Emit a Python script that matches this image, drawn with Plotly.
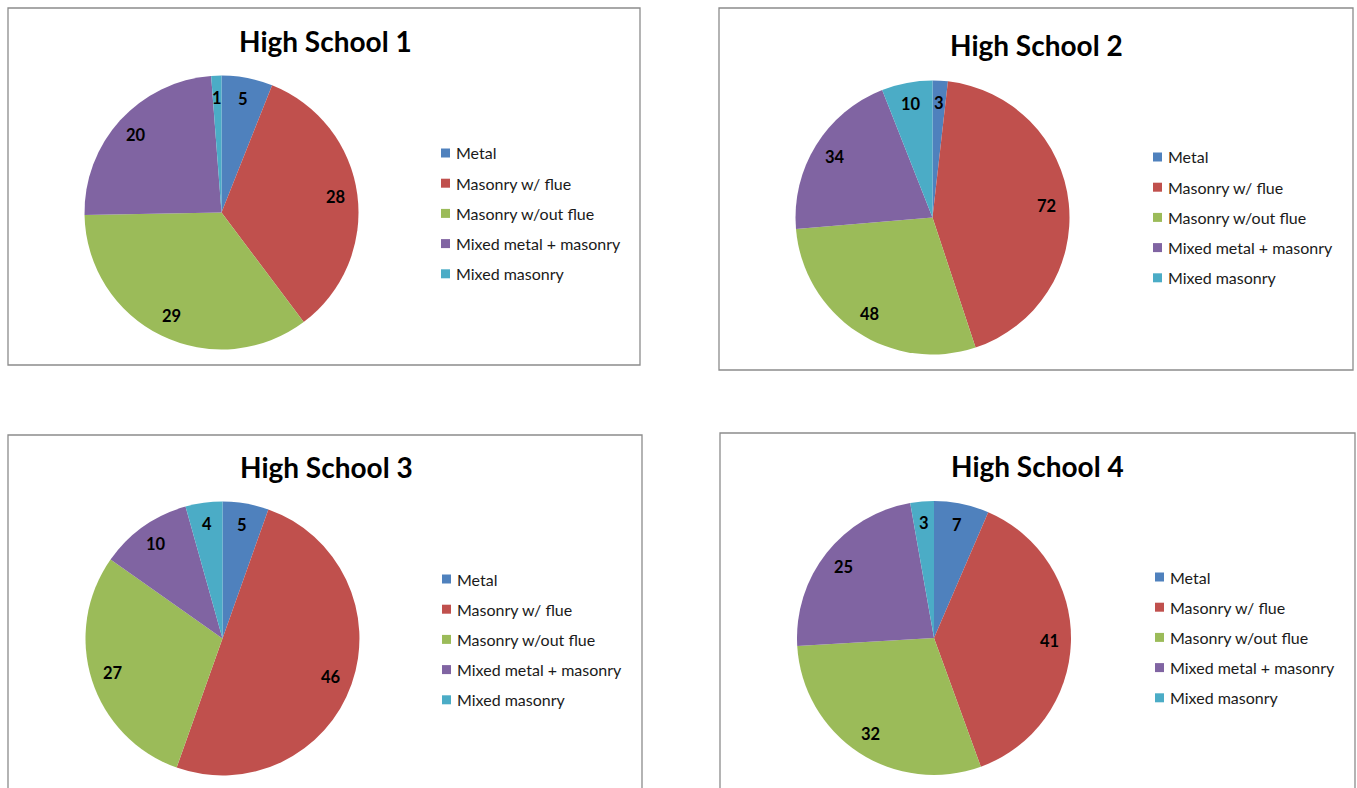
import math
import plotly.graph_objects as go

W, H = 1357, 788

categories = ["Metal", "Masonry w/ flue", "Masonry w/out flue",
              "Mixed metal + masonry", "Mixed masonry"]
colors = ["#4F81BD", "#C0504D", "#9BBB59", "#8064A2", "#4BACC6"]

titles = ["High School 1", "High School 2", "High School 3", "High School 4"]
school1 = [5, 28, 29, 20, 1]
school2 = [3, 72, 48, 34, 10]
school3 = [5, 46, 27, 10, 4]
school4 = [7, 41, 32, 25, 3]
schools = [school1, school2, school3, school4]

# panel layout in pixels: frame box, pie centre, title centre, legend origin
panels = [
    dict(box=(8, 8, 640, 365), center=(221.5, 212.5), title=(325, 41), legend=(441, 153)),
    dict(box=(719, 8, 1353, 370), center=(932.5, 217.5), title=(1036, 45), legend=(1153, 157)),
    dict(box=(8, 435, 642, 800), center=(222.5, 638.5), title=(326, 467), legend=(442, 579)),
    dict(box=(720, 433, 1355, 800), center=(934, 638), title=(1037, 466), legend=(1155, 577)),
]
R = 137
LABEL_R = 0.84 * R
ROW = 30.2

FONT = "Lato"


def px(x):
    return x / W


def py(y):
    return 1 - y / H


fig = go.Figure()
shapes = []
annotations = []

for title, vals, p in zip(titles, schools, panels):
    cx, cy = p["center"]
    fig.add_trace(go.Pie(
        labels=categories,
        values=vals,
        sort=False,
        direction="clockwise",
        rotation=0,
        marker=dict(colors=colors, line=dict(width=0)),
        textinfo="none",
        hoverinfo="label+value",
        showlegend=False,
        domain=dict(x=[px(cx - R), px(cx + R)], y=[py(cy + R), py(cy - R)]),
    ))

    # value labels placed along each slice's mid-angle
    total = sum(vals)
    start = 0.0
    for v in vals:
        mid = (start + v / 2) / total * 2 * math.pi
        start += v
        lx = cx + LABEL_R * math.sin(mid)
        ly = cy - LABEL_R * math.cos(mid)
        annotations.append(dict(
            x=px(lx), y=py(ly), xref="paper", yref="paper",
            text=f"<b>{v}</b>", showarrow=False,
            xanchor="center", yanchor="middle",
            font=dict(family=FONT, size=16.5, color="#000000"),
        ))

    # frame
    x0, y0, x1, y1 = p["box"]
    shapes.append(dict(type="rect", xref="paper", yref="paper",
                       x0=px(x0), x1=px(x1), y0=py(y1), y1=py(y0),
                       line=dict(color="#8C8C8C", width=1.3), layer="below"))

    # title
    tx, ty = p["title"]
    annotations.append(dict(
        x=px(tx), y=py(ty), xref="paper", yref="paper",
        text=f"<b>{title}</b>", showarrow=False,
        xanchor="center", yanchor="middle",
        font=dict(family=FONT, size=28, color="#000000"),
    ))

    # legend
    lx0, ly0 = p["legend"]
    for i, (cat, col) in enumerate(zip(categories, colors)):
        yy = ly0 + i * ROW
        shapes.append(dict(type="rect", xref="paper", yref="paper",
                           x0=px(lx0), x1=px(lx0 + 9), y0=py(yy + 4.5), y1=py(yy - 4.5),
                           line=dict(width=0), fillcolor=col))
        annotations.append(dict(
            x=px(lx0 + 13), y=py(yy), xref="paper", yref="paper",
            text=cat, showarrow=False,
            xanchor="left", yanchor="middle",
            font=dict(family=FONT, size=16, color="#1a1a1a"),
        ))

fig.update_layout(
    width=W, height=H,
    margin=dict(l=0, r=0, t=0, b=0),
    paper_bgcolor="white",
    plot_bgcolor="white",
    shapes=shapes,
    annotations=annotations,
    showlegend=False,
)

fig.write_html("out.html")
